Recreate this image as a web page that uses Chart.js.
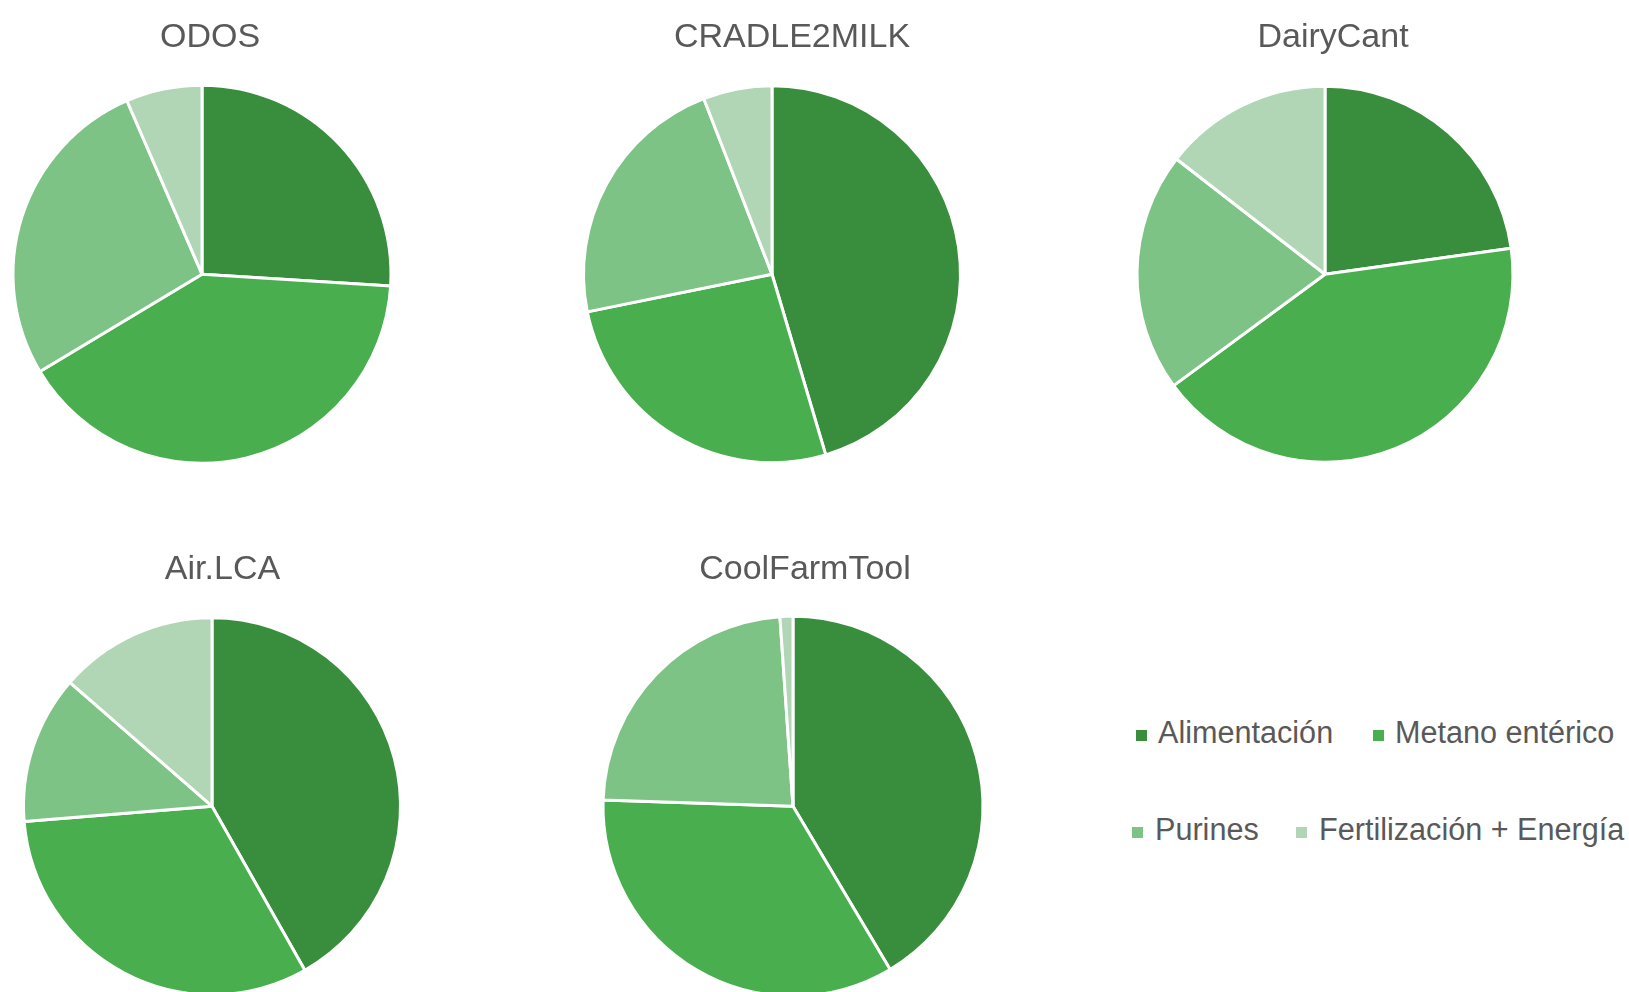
<!DOCTYPE html>
<html>
<head>
<meta charset="utf-8">
<script src="https://cdn.jsdelivr.net/npm/chart.js@4"></script>
<style>
  html, body { margin: 0; padding: 0; background: #ffffff; }
  body { width: 1629px; height: 992px; position: relative; overflow: hidden; font-family: "Liberation Sans", Arial, sans-serif; }
  .pie { position: absolute; width: 440px; height: 485px; }
  .leg { position: absolute; font-size: 30.6px; line-height: 30.6px; color: #595959; white-space: nowrap; }
  .sq { position: absolute; width: 11px; height: 11px; }
</style>
</head>
<body>
<div class="pie" id="p0"><canvas id="c0"></canvas></div>
<div class="pie" id="p1"><canvas id="c1"></canvas></div>
<div class="pie" id="p2"><canvas id="c2"></canvas></div>
<div class="pie" id="p3"><canvas id="c3"></canvas></div>
<div class="pie" id="p4"><canvas id="c4"></canvas></div>
<div id="legend"></div>
<script>
// ---- data ----
const categories = ['Alimentación', 'Metano entérico', 'Purines', 'Fertilización + Energía'];
const tools = ['ODOS', 'CRADLE2MILK', 'DairyCant', 'Air.LCA', 'CoolFarmTool'];
const odos = [26.0, 40.4, 27.1, 6.5];
const cradle2milk = [45.4, 26.4, 22.3, 5.9];
const dairyCant = [22.8, 42.1, 20.6, 14.5];
const airLCA = [41.8, 31.9, 12.7, 13.6];
const coolFarmTool = [41.5, 34.1, 23.4, 1.1];
const seriesByTool = [odos, cradle2milk, dairyCant, airLCA, coolFarmTool];

// ---- styles ----
const colors = ['#388E3C', '#48AE4E', '#7DC386', '#B0D6B6'];
const layoutPos = [
  { cx: 202, top: 0, r: 189, tx: 210 },
  { cx: 771.5, top: 0, r: 188.5, tx: 791.5 },
  { cx: 1325, top: 0, r: 188, tx: 1333 },
  { cx: 211.5, top: 532, r: 188.5, tx: 222 },
  { cx: 793, top: 532, r: 190, tx: 805 }
];

const titleShift = {
  id: 'titleShift',
  afterLayout(chart, args, opts) {
    const t = chart.titleBlock;
    if (t) { t.left += opts.dx; t.right += opts.dx; }
  }
};

tools.forEach((name, i) => {
  const pos = layoutPos[i];
  const box = document.getElementById('p' + i);
  box.style.left = (pos.cx - 220) + 'px';
  box.style.top = pos.top + 'px';
  new Chart(document.getElementById('c' + i), {
    type: 'pie',
    data: {
      labels: categories,
      datasets: [{
        data: seriesByTool[i],
        backgroundColor: colors,
        borderColor: '#ffffff',
        borderWidth: 3,
        radius: pos.r
      }]
    },
    plugins: [titleShift],
    options: {
      responsive: true,
      maintainAspectRatio: false,
      animation: false,
      layout: { padding: 0 },
      plugins: {
        legend: { display: false },
        tooltip: { enabled: false },
        titleShift: { dx: pos.tx - pos.cx },
        title: {
          display: true,
          text: name,
          color: '#595959',
          font: { family: '"Liberation Sans", Arial, sans-serif', size: 34, weight: 'normal' },
          padding: { top: 17, bottom: 5.6 }
        }
      }
    }
  });
});

// ---- legend ----
const legendPos = [
  { sx: 1136, tx: 1158, base: 743 },
  { sx: 1373, tx: 1395, base: 743 },
  { sx: 1132, tx: 1155, base: 840 },
  { sx: 1296, tx: 1319, base: 840 }
];
const legend = document.getElementById('legend');
categories.forEach((cat, i) => {
  const p = legendPos[i];
  const sq = document.createElement('div');
  sq.className = 'sq';
  sq.style.background = colors[i];
  sq.style.left = p.sx + 'px';
  sq.style.top = (p.base - 13.5) + 'px';
  legend.appendChild(sq);
  const t = document.createElement('div');
  t.className = 'leg';
  t.textContent = cat;
  t.style.left = p.tx + 'px';
  t.style.top = (p.base - 25.9) + 'px';
  legend.appendChild(t);
});
</script>
</body>
</html>
